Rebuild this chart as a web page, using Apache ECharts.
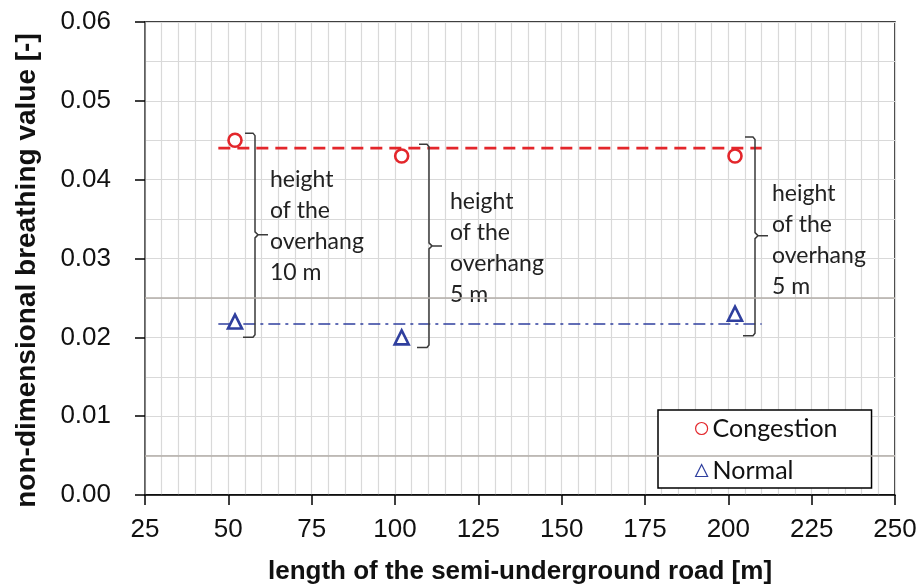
<!DOCTYPE html>
<html>
<head>
<meta charset="utf-8">
<script src="https://cdn.jsdelivr.net/npm/echarts@6/dist/echarts.min.js"></script>
<style>html,body{margin:0;padding:0;background:#fff;}#chart{width:921px;height:587px;}</style>
</head>
<body>
<div id="chart"></div>
<script>
// ---- data ----
const lengths = [52, 102, 202];
const congestion = [0.045, 0.043, 0.043];
const normal = [0.022, 0.020, 0.023];
const meanRange = [47, 210];
const congestionMean = 0.044;
const normalMean = 0.0217;
const darkGridY = [0.005, 0.025];
const xTicks = [25, 50, 75, 100, 125, 150, 175, 200, 225, 250];
const yTicks = [0, 0.01, 0.02, 0.03, 0.04, 0.05, 0.06];
// braces: [x, top, bottom, mid]
const braces = [
  [58.0, 0.0459, 0.0200, 0.0330],
  [110.2, 0.0445, 0.0187, 0.0316],
  [208.0, 0.0454, 0.0202, 0.0329]
];
// notes: [x, yCenter]
const notePos = [
  [62.5, 0.0341],
  [116.5, 0.0313],
  [213.1, 0.0323]
];
const noteText = [
  'height\nof the\noverhang\n10 m',
  'height\nof the\noverhang\n5 m',
  'height\nof the\noverhang\n5 m'
];

const RED = '#e3262b';
const BLUE = '#2f3f9e';

const chart = echarts.init(document.getElementById('chart'), null, {renderer: 'canvas'});

const braceData = braces.map((b, i) => b.concat(notePos[i]));

const option = {
  animation: false,
  backgroundColor: '#fff',
  grid: {
    left: 145, right: 26, top: 22, bottom: 92,
    outerBoundsMode: 'none', containLabel: false,
    show: true, borderColor: '#000', borderWidth: 1.5, backgroundColor: 'transparent'
  },
  xAxis: {
    type: 'value', min: xTicks[0], max: xTicks[xTicks.length - 1], interval: 25,
    name: 'length of the semi-underground road [m]',
    nameLocation: 'middle', nameGap: 64,
    nameTextStyle: {fontFamily: 'Liberation Sans', fontWeight: 'bold', fontSize: 26, color: '#111'},
    axisLine: {show: true, onZero: false, lineStyle: {color: '#000', width: 1.5}},
    axisTick: {show: true, length: 10, lineStyle: {color: '#000', width: 1.5}},
    axisLabel: {margin: 22, fontFamily: 'Liberation Sans', fontSize: 26, color: '#111'},
    splitLine: {show: true, lineStyle: {color: '#d9d9d9', width: 1.2}},
    minorTick: {show: false, splitNumber: 5},
    minorSplitLine: {show: true, lineStyle: {color: '#d9d9d9', width: 1.2}}
  },
  yAxis: {
    type: 'value', min: yTicks[0], max: yTicks[yTicks.length - 1], interval: 0.01,
    name: 'non-dimensional breathing value [-]',
    nameLocation: 'middle', nameGap: 104,
    nameTextStyle: {fontFamily: 'Liberation Sans', fontWeight: 'bold', fontSize: 28, color: '#111',
      padding: [0, 24, 0, 0]},
    axisLine: {show: true, onZero: false, lineStyle: {color: '#666', width: 1.5}},
    axisTick: {show: true, length: 10, lineStyle: {color: '#000', width: 1.5}},
    axisLabel: {margin: 34, fontFamily: 'Liberation Sans', fontSize: 26, color: '#111',
      formatter: v => v.toFixed(2)},
    splitLine: {show: true, lineStyle: {color: '#d9d9d9', width: 1.2}},
    minorTick: {show: false, splitNumber: 2},
    minorSplitLine: {show: true, lineStyle: {color: '#d9d9d9', width: 1.2}}
  },
  legend: {
    orient: 'vertical', left: 658, top: 410,
    backgroundColor: '#fff', borderColor: '#000', borderWidth: 1.5,
    padding: [6, 34, 5, 37], itemGap: 17, itemWidth: 12, itemHeight: 12,
    textStyle: {fontFamily: 'Lato', fontSize: 25, color: '#111', lineHeight: 24},
    itemStyle: {borderWidth: 1.2},
    data: ['Congestion', 'Normal']
  },
  series: [
    {
      name: 'darkGrid', type: 'line', data: [], silent: true, z: 1,
      markLine: {
        silent: true, symbol: 'none', label: {show: false}, precision: 4,
        lineStyle: {color: '#b3aea9', width: 1.5, type: 'solid'},
        data: darkGridY.map(v => ({yAxis: v}))
      }
    },
    {
      name: 'congestionMean', type: 'line', z: 2, symbol: 'none', silent: true,
      data: meanRange.map(x => [x, congestionMean]),
      lineStyle: {color: RED, width: 2.6, type: [12, 7]}
    },
    {
      name: 'normalMean', type: 'line', z: 2, symbol: 'none', silent: true,
      data: meanRange.map(x => [x, normalMean]),
      lineStyle: {color: BLUE, width: 1.6, type: [12, 5, 3, 5]}
    },
    {
      name: 'braces', type: 'custom', z: 3, silent: true, clip: false,
      data: braceData,
      renderItem: function (params, api) {
        const p = api.coord([api.value(0), api.value(1)]);
        const b = api.coord([api.value(0), api.value(2)]);
        const m = api.coord([api.value(0), api.value(3)]);
        const t = api.coord([api.value(4), api.value(5)]);
        const x = p[0], top = p[1], bot = b[1], mid = m[1];
        return {
          type: 'group',
          children: [
            {
              type: 'polyline',
              shape: {points: [
                [x - 10, top], [x - 2, top], [x, top + 2.5], [x, mid - 3], [x + 3, mid],
                [x + 13, mid], [x + 3, mid], [x, mid + 3], [x, bot - 2.5], [x - 2, bot], [x - 12, bot]
              ]},
              style: {stroke: '#3a3a3a', lineWidth: 1.5, fill: null}
            },
            {
              type: 'text',
              style: {
                text: noteText[params.dataIndex], x: t[0], y: t[1],
                font: '23px Lato', fill: '#222', lineHeight: 31,
                verticalAlign: 'middle', align: 'left'
              }
            }
          ]
        };
      }
    },
    {
      name: 'Congestion', type: 'scatter', z: 5, symbol: 'circle', symbolSize: 13,
      data: lengths.map((x, i) => [x, congestion[i]]),
      itemStyle: {color: '#fff', borderColor: RED, borderWidth: 2.6, opacity: 1}
    },
    {
      name: 'Normal', type: 'scatter', z: 5, symbol: 'triangle', symbolSize: 14,
      data: lengths.map((x, i) => [x, normal[i]]),
      itemStyle: {color: '#fff', borderColor: BLUE, borderWidth: 2.6, opacity: 1}
    }
  ]
};
chart.setOption(option);
</script>
</body>
</html>
